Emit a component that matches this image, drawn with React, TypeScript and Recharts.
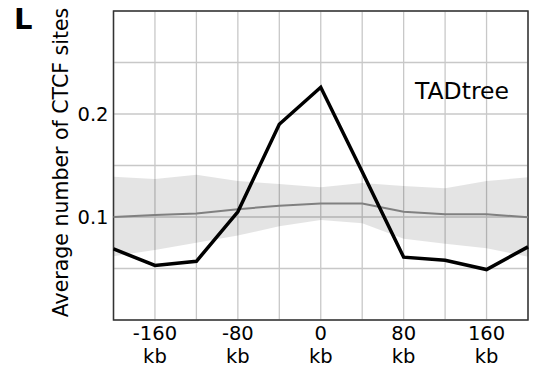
import React from 'react';
import { ComposedChart, Line, Area, XAxis, YAxis, CartesianGrid, ReferenceArea } from 'recharts';

const positions = [-200, -160, -120, -80, -40, 0, 40, 80, 120, 160, 200];
const tadtree = [0.069, 0.053, 0.057, 0.105, 0.19, 0.226, 0.144, 0.061, 0.058, 0.049, 0.071];
const meanShuffled = [0.1, 0.102, 0.1035, 0.1075, 0.111, 0.113, 0.113, 0.105, 0.1026, 0.1026, 0.0997];
const bandUpper = [0.139, 0.137, 0.141, 0.135, 0.132, 0.129, 0.133, 0.13, 0.128, 0.135, 0.1385];
const bandLower = [0.062, 0.068, 0.075, 0.082, 0.091, 0.097, 0.094, 0.079, 0.074, 0.0696, 0.0615];
const xLabelTicks = [-160, -80, 0, 80, 160];
const yTicks = [0, 0.05, 0.1, 0.15, 0.2, 0.25, 0.3];
const yLabelTicks = [0.1, 0.2];

const data = positions.map((p, i) => ({
  pos: p,
  tad: tadtree[i],
  mean: meanShuffled[i],
  band: [bandLower[i], bandUpper[i]],
}));

const FONT = 'DejaVu Sans';

const XTick = (props: any) => {
  const { x, y, payload } = props;
  if (!xLabelTicks.includes(payload.value)) return <g />;
  return (
    <g>
      <text x={x} y={y + 20} textAnchor="middle" fontFamily={FONT} fontSize={19.5} fill="#000">
        {String(payload.value)}
      </text>
      <text x={x} y={y + 43} textAnchor="middle" fontFamily={FONT} fontSize={19.5} fill="#000">
        kb
      </text>
    </g>
  );
};

const YTick = (props: any) => {
  const { x, y, payload } = props;
  if (!yLabelTicks.some((v) => Math.abs(v - payload.value) < 1e-9)) return <g />;
  return (
    <text x={x} y={y + 6.5} textAnchor="end" fontFamily={FONT} fontSize={19.5} fill="#000">
      {payload.value.toFixed(1)}
    </text>
  );
};

export default function App() {
  return (
    <div style={{ position: 'absolute', left: 0, top: 0, width: 534, height: 370, background: '#fff' }}>
      <ComposedChart
        width={534}
        height={370}
        data={data}
        margin={{ top: 11, right: 6, bottom: 0, left: 0 }}
      >
        <CartesianGrid stroke="#c8c8c8" strokeWidth={1.3} />
        <XAxis
          type="number"
          dataKey="pos"
          domain={[-200, 200]}
          ticks={positions}
          tick={<XTick />}
          tickLine={false}
          axisLine={false}
          tickSize={0}
          tickMargin={0}
          height={50}
          interval={0}
        />
        <YAxis
          type="number"
          domain={[0, 0.3]}
          ticks={yTicks}
          tick={<YTick />}
          tickLine={false}
          axisLine={false}
          tickSize={0}
          tickMargin={5}
          width={113.5}
          interval={0}
          allowDataOverflow
        />
        <Area
          dataKey="band"
          type="linear"
          stroke="none"
          fill="#000"
          fillOpacity={0.105}
          isAnimationActive={false}
          dot={false}
          activeDot={false}
        />
        <Line
          dataKey="mean"
          type="linear"
          stroke="#808080"
          strokeWidth={2}
          dot={false}
          activeDot={false}
          isAnimationActive={false}
        />
        <Line
          dataKey="tad"
          type="linear"
          stroke="#000"
          strokeWidth={3.5}
          dot={false}
          activeDot={false}
          isAnimationActive={false}
        />
        <ReferenceArea
          x1={-200}
          x2={200}
          y1={0}
          y2={0.3}
          fill="none"
          fillOpacity={0}
          stroke="#333"
          strokeWidth={1.5}
          ifOverflow="visible"
        />
      </ComposedChart>
      <svg
        width={534}
        height={370}
        style={{ position: 'absolute', left: 0, top: 0, pointerEvents: 'none' }}
      >
        <text x={14} y={29} fontFamily={FONT} fontWeight="bold" fontSize={29} fill="#000">
          L
        </text>
        <text x={415} y={99} fontFamily={FONT} fontSize={23.5} fill="#000">
          TADtree
        </text>
        <text
          x={0}
          y={0}
          transform="translate(68,162.5) rotate(-90)"
          textAnchor="middle"
          fontFamily={FONT}
          fontSize={20.5}
          fill="#000"
        >
          Average number of CTCF sites
        </text>
      </svg>
    </div>
  );
}
